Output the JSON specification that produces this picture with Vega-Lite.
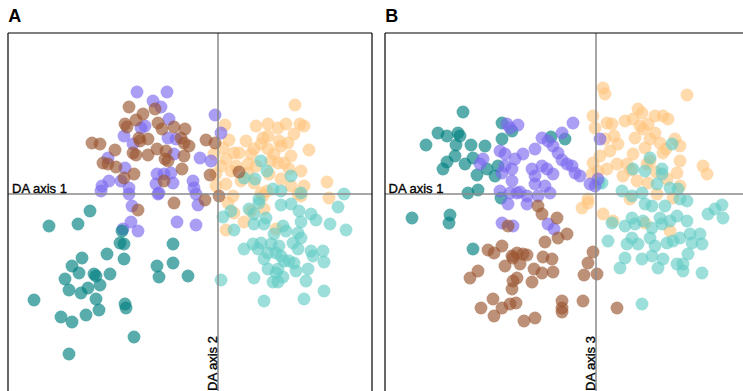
{
"$schema": "https://vega.github.io/schema/vega-lite/v6.json",
"padding": {"left": 7, "top": 8, "right": 0, "bottom": 0},
"autosize": {"type": "pad"},
"config": {"view": {"stroke": null}, "concat": {"spacing": 11}, "font": "Liberation Sans"},
"datasets": {
"a": [
{"x":7.7,"y":8.9,"g":"pe"},{"x":5.0,"y":7.0,"g":"pe"},{"x":6.0,"y":6.6,"g":"pe"},{"x":6.8,"y":7.0,"g":"pe"},{"x":8.2,"y":7.0,"g":"pe"},{"x":8.6,"y":6.8,"g":"pe"},{"x":0.7,"y":6.9,"g":"pe"},{"x":7.6,"y":6.0,"g":"pe"},{"x":4.5,"y":5.6,"g":"pe"},{"x":5.0,"y":5.8,"g":"pe"},{"x":7.0,"y":5.1,"g":"pe"},{"x":4.3,"y":5.0,"g":"pe"},{"x":3.6,"y":4.5,"g":"pe"},{"x":5.0,"y":4.5,"g":"pe"},{"x":6.3,"y":4.8,"g":"pe"},{"x":9.1,"y":4.4,"g":"pe"},{"x":1.1,"y":5.4,"g":"pe"},{"x":0.5,"y":4.6,"g":"pe"},{"x":1.6,"y":4.1,"g":"pe"},{"x":2.1,"y":4.1,"g":"pe"},{"x":3.3,"y":4.0,"g":"pe"},{"x":-0.4,"y":4.0,"g":"pe"},{"x":0.8,"y":3.5,"g":"pe"},{"x":0.3,"y":2.8,"g":"pe"},{"x":3.0,"y":3.0,"g":"pe"},{"x":5.6,"y":4.0,"g":"pe"},{"x":6.0,"y":3.1,"g":"pe"},{"x":6.6,"y":3.1,"g":"pe"},{"x":7.1,"y":2.5,"g":"pe"},{"x":8.3,"y":2.3,"g":"pe"},{"x":1.3,"y":2.3,"g":"pe"},{"x":3.0,"y":2.1,"g":"pe"},{"x":5.1,"y":2.0,"g":"pe"},{"x":6.3,"y":1.5,"g":"pe"},{"x":0.8,"y":1.0,"g":"pe"},{"x":3.6,"y":1.1,"g":"pe"},{"x":8.6,"y":0.8,"g":"pe"},{"x":10.9,"y":1.2,"g":"pe"},{"x":-0.2,"y":2.0,"g":"pe"},{"x":4.3,"y":0.1,"g":"pe"},{"x":4.9,"y":0.3,"g":"pe"},{"x":1.5,"y":-0.2,"g":"pe"},{"x":8.0,"y":0.0,"g":"pe"},{"x":11.1,"y":-0.4,"g":"pe"},{"x":4.5,"y":-0.2,"g":"pe"},{"x":8.3,"y":-0.2,"g":"pe"},{"x":1.0,"y":-0.9,"g":"pe"},{"x":1.6,"y":-1.9,"g":"pe"},{"x":2.6,"y":-2.8,"g":"pe"},{"x":0.8,"y":-3.6,"g":"pe"},{"x":5.8,"y":-3.5,"g":"pe"},{"x":4.6,"y":-1.5,"g":"pe"},{"x":3.3,"y":-1.7,"g":"pe"},{"x":2.8,"y":5.3,"g":"pe"},{"x":5.3,"y":3.3,"g":"pe"},{"x":3.8,"y":2.8,"g":"pe"},{"x":2.3,"y":1.3,"g":"pe"},{"x":7.3,"y":3.8,"g":"pe"},{"x":1.8,"y":2.8,"g":"pe"},{"x":-0.2,"y":0.8,"g":"pe"},{"x":6.1,"y":5.3,"g":"pe"},{"x":3.8,"y":6.8,"g":"pe"},{"x":7.3,"y":0.8,"g":"pe"},
{"x":4.3,"y":3.3,"g":"lt"},{"x":4.9,"y":2.3,"g":"lt"},{"x":2.6,"y":1.6,"g":"lt"},{"x":3.7,"y":1.5,"g":"lt"},{"x":7.3,"y":1.8,"g":"lt"},{"x":5.5,"y":0.5,"g":"lt"},{"x":6.3,"y":0.3,"g":"lt"},{"x":8.3,"y":0.1,"g":"lt"},{"x":12.6,"y":0.0,"g":"lt"},{"x":4.1,"y":-0.5,"g":"lt"},{"x":12.0,"y":-1.3,"g":"lt"},{"x":12.8,"y":-3.6,"g":"lt"},{"x":11.2,"y":-3.0,"g":"lt"},{"x":9.3,"y":-2.0,"g":"lt"},{"x":9.8,"y":-2.6,"g":"lt"},{"x":8.3,"y":-2.8,"g":"lt"},{"x":8.1,"y":-1.7,"g":"lt"},{"x":7.3,"y":-1.0,"g":"lt"},{"x":6.3,"y":-1.1,"g":"lt"},{"x":4.1,"y":-0.9,"g":"lt"},{"x":3.1,"y":-1.5,"g":"lt"},{"x":3.6,"y":-2.0,"g":"lt"},{"x":4.8,"y":-2.4,"g":"lt"},{"x":3.6,"y":-3.0,"g":"lt"},{"x":4.6,"y":-3.0,"g":"lt"},{"x":6.5,"y":-3.2,"g":"lt"},{"x":6.8,"y":-3.7,"g":"lt"},{"x":5.6,"y":-4.0,"g":"lt"},{"x":0.5,"y":-2.3,"g":"lt"},{"x":1.3,"y":-1.7,"g":"lt"},{"x":1.6,"y":-3.6,"g":"lt"},{"x":8.0,"y":-3.9,"g":"lt"},{"x":8.3,"y":-4.4,"g":"lt"},{"x":7.5,"y":-4.9,"g":"lt"},{"x":8.0,"y":-5.5,"g":"lt"},{"x":6.1,"y":-5.2,"g":"lt"},{"x":5.3,"y":-5.0,"g":"lt"},{"x":4.3,"y":-4.9,"g":"lt"},{"x":3.5,"y":-5.0,"g":"lt"},{"x":2.6,"y":-5.5,"g":"lt"},{"x":4.0,"y":-5.5,"g":"lt"},{"x":5.0,"y":-5.9,"g":"lt"},{"x":5.8,"y":-5.9,"g":"lt"},{"x":6.3,"y":-6.2,"g":"lt"},{"x":4.6,"y":-6.5,"g":"lt"},{"x":6.6,"y":-6.7,"g":"lt"},{"x":7.1,"y":-6.7,"g":"lt"},{"x":7.6,"y":-6.9,"g":"lt"},{"x":9.3,"y":-5.7,"g":"lt"},{"x":9.5,"y":-6.2,"g":"lt"},{"x":10.5,"y":-5.7,"g":"lt"},{"x":10.6,"y":-6.8,"g":"lt"},{"x":9.0,"y":-7.5,"g":"lt"},{"x":7.8,"y":-7.7,"g":"lt"},{"x":6.0,"y":-7.5,"g":"lt"},{"x":5.0,"y":-7.5,"g":"lt"},{"x":5.8,"y":-7.9,"g":"lt"},{"x":6.5,"y":-8.3,"g":"lt"},{"x":3.6,"y":-8.4,"g":"lt"},{"x":5.5,"y":-8.8,"g":"lt"},{"x":6.0,"y":-8.8,"g":"lt"},{"x":8.8,"y":-8.7,"g":"lt"},{"x":0.3,"y":-8.6,"g":"lt"},{"x":4.6,"y":-10.7,"g":"lt"},{"x":8.6,"y":-10.5,"g":"lt"},{"x":10.6,"y":-9.7,"g":"lt"},
{"x":-8.1,"y":10.2,"g":"pu"},{"x":-5.1,"y":10.2,"g":"pu"},{"x":-6.5,"y":9.3,"g":"pu"},{"x":-5.7,"y":8.7,"g":"pu"},{"x":-4.9,"y":7.5,"g":"pu"},{"x":-7.3,"y":6.8,"g":"pu"},{"x":-7.7,"y":6.6,"g":"pu"},{"x":-0.3,"y":7.9,"g":"pu"},{"x":0.3,"y":6.1,"g":"pu"},{"x":-9.4,"y":5.8,"g":"pu"},{"x":-5.0,"y":5.6,"g":"pu"},{"x":-4.2,"y":5.5,"g":"pu"},{"x":-8.5,"y":5.0,"g":"pu"},{"x":-4.4,"y":4.0,"g":"pu"},{"x":-1.8,"y":3.6,"g":"pu"},{"x":-0.7,"y":3.3,"g":"pu"},{"x":-11.0,"y":3.6,"g":"pu"},{"x":-9.3,"y":2.6,"g":"pu"},{"x":-6.1,"y":2.0,"g":"pu"},{"x":-5.4,"y":2.0,"g":"pu"},{"x":-4.7,"y":2.1,"g":"pu"},{"x":-11.6,"y":0.8,"g":"pu"},{"x":-10.9,"y":1.3,"g":"pu"},{"x":-9.7,"y":1.3,"g":"pu"},{"x":-8.9,"y":0.6,"g":"pu"},{"x":-8.9,"y":0.0,"g":"pu"},{"x":-6.2,"y":1.0,"g":"pu"},{"x":-5.9,"y":0.1,"g":"pu"},{"x":-4.5,"y":1.1,"g":"pu"},{"x":-2.5,"y":1.3,"g":"pu"},{"x":-2.4,"y":0.6,"g":"pu"},{"x":-6.0,"y":0.0,"g":"pu"},{"x":-8.6,"y":-1.2,"g":"pu"},{"x":-8.7,"y":-2.8,"g":"pu"},{"x":-8.0,"y":-3.7,"g":"pu"},{"x":-4.1,"y":-2.8,"g":"pu"},{"x":-2.2,"y":-3.1,"g":"pu"},{"x":-2.0,"y":-1.1,"g":"pu"},{"x":-2.2,"y":0.0,"g":"pu"},{"x":-11.7,"y":0.3,"g":"pu"},{"x":-9.5,"y":-3.5,"g":"pu"},
{"x":-8.9,"y":8.7,"g":"br"},{"x":-6.3,"y":8.5,"g":"br"},{"x":-7.5,"y":8.0,"g":"br"},{"x":-8.2,"y":7.4,"g":"br"},{"x":-9.3,"y":7.0,"g":"br"},{"x":-9.1,"y":6.7,"g":"br"},{"x":-6.0,"y":7.1,"g":"br"},{"x":-5.6,"y":6.5,"g":"br"},{"x":-4.4,"y":6.7,"g":"br"},{"x":-3.3,"y":6.5,"g":"br"},{"x":-7.9,"y":5.6,"g":"br"},{"x":-7.0,"y":5.5,"g":"br"},{"x":-7.8,"y":5.3,"g":"br"},{"x":-3.7,"y":5.6,"g":"br"},{"x":-3.4,"y":5.1,"g":"br"},{"x":-2.9,"y":4.8,"g":"br"},{"x":-12.6,"y":5.1,"g":"br"},{"x":-11.8,"y":5.0,"g":"br"},{"x":-10.3,"y":4.4,"g":"br"},{"x":-8.5,"y":4.1,"g":"br"},{"x":-8.2,"y":3.9,"g":"br"},{"x":-7.0,"y":3.9,"g":"br"},{"x":-6.1,"y":4.5,"g":"br"},{"x":-5.2,"y":4.3,"g":"br"},{"x":-5.3,"y":3.5,"g":"br"},{"x":-5.0,"y":3.3,"g":"br"},{"x":-3.4,"y":3.8,"g":"br"},{"x":-11.5,"y":3.1,"g":"br"},{"x":-11.0,"y":3.0,"g":"br"},{"x":-10.2,"y":2.7,"g":"br"},{"x":-8.4,"y":2.0,"g":"br"},{"x":-9.4,"y":1.6,"g":"br"},{"x":-5.4,"y":1.3,"g":"br"},{"x":-3.6,"y":2.5,"g":"br"},{"x":-1.2,"y":5.4,"g":"br"},{"x":-0.3,"y":5.1,"g":"br"},{"x":-0.8,"y":1.9,"g":"br"},{"x":2.1,"y":2.2,"g":"br"},{"x":0.1,"y":-0.2,"g":"br"},{"x":-4.4,"y":-0.9,"g":"br"},{"x":-8.0,"y":-1.6,"g":"br"},{"x":-1.3,"y":-0.6,"g":"br"},
{"x":-12.8,"y":-1.7,"g":"dt"},{"x":-16.9,"y":-3.2,"g":"dt"},{"x":-14.0,"y":-3.0,"g":"dt"},{"x":-9.8,"y":-4.9,"g":"dt"},{"x":-9.4,"y":-5.0,"g":"dt"},{"x":-11.1,"y":-6.0,"g":"dt"},{"x":-13.6,"y":-6.4,"g":"dt"},{"x":-9.4,"y":-6.5,"g":"dt"},{"x":-4.5,"y":-5.0,"g":"dt"},{"x":-4.5,"y":-6.9,"g":"dt"},{"x":-6.1,"y":-7.2,"g":"dt"},{"x":-5.9,"y":-8.3,"g":"dt"},{"x":-3.0,"y":-8.2,"g":"dt"},{"x":-14.6,"y":-7.2,"g":"dt"},{"x":-13.9,"y":-7.9,"g":"dt"},{"x":-15.3,"y":-8.5,"g":"dt"},{"x":-12.4,"y":-8.0,"g":"dt"},{"x":-12.2,"y":-8.2,"g":"dt"},{"x":-10.8,"y":-8.0,"g":"dt"},{"x":-11.8,"y":-9.1,"g":"dt"},{"x":-13.0,"y":-9.4,"g":"dt"},{"x":-14.9,"y":-9.6,"g":"dt"},{"x":-13.7,"y":-9.9,"g":"dt"},{"x":-12.2,"y":-10.5,"g":"dt"},{"x":-18.4,"y":-10.6,"g":"dt"},{"x":-9.3,"y":-11.0,"g":"dt"},{"x":-9.2,"y":-11.4,"g":"dt"},{"x":-11.9,"y":-11.6,"g":"dt"},{"x":-13.2,"y":-12.1,"g":"dt"},{"x":-15.7,"y":-12.3,"g":"dt"},{"x":-14.6,"y":-12.8,"g":"dt"},{"x":-8.4,"y":-14.3,"g":"dt"},{"x":-14.9,"y":-16.0,"g":"dt"},{"x":-9.6,"y":-3.7,"g":"dt"}
],
"b": [
{"x":0.7,"y":10.6,"g":"pe"},{"x":0.9,"y":10.0,"g":"pe"},{"x":9.1,"y":9.9,"g":"pe"},{"x":4.2,"y":8.5,"g":"pe"},{"x":4.6,"y":8.1,"g":"pe"},{"x":-0.3,"y":7.8,"g":"pe"},{"x":5.9,"y":7.8,"g":"pe"},{"x":6.7,"y":7.8,"g":"pe"},{"x":7.2,"y":7.5,"g":"pe"},{"x":1.1,"y":7.1,"g":"pe"},{"x":1.6,"y":7.0,"g":"pe"},{"x":2.9,"y":7.3,"g":"pe"},{"x":3.7,"y":7.5,"g":"pe"},{"x":4.4,"y":6.8,"g":"pe"},{"x":5.2,"y":7.0,"g":"pe"},{"x":-0.1,"y":6.6,"g":"pe"},{"x":4.7,"y":6.5,"g":"pe"},{"x":5.9,"y":6.1,"g":"pe"},{"x":3.9,"y":5.6,"g":"pe"},{"x":2.2,"y":5.0,"g":"pe"},{"x":0.9,"y":5.5,"g":"pe"},{"x":5.4,"y":5.5,"g":"pe"},{"x":6.4,"y":5.1,"g":"pe"},{"x":7.9,"y":5.5,"g":"pe"},{"x":8.4,"y":4.8,"g":"pe"},{"x":4.9,"y":4.6,"g":"pe"},{"x":6.7,"y":4.1,"g":"pe"},{"x":3.7,"y":4.0,"g":"pe"},{"x":1.4,"y":4.3,"g":"pe"},{"x":0.4,"y":3.8,"g":"pe"},{"x":2.1,"y":3.0,"g":"pe"},{"x":3.1,"y":3.0,"g":"pe"},{"x":5.1,"y":3.0,"g":"pe"},{"x":-0.3,"y":3.1,"g":"pe"},{"x":1.1,"y":2.5,"g":"pe"},{"x":8.4,"y":3.3,"g":"pe"},{"x":8.1,"y":2.1,"g":"pe"},{"x":10.7,"y":2.8,"g":"pe"},{"x":11.1,"y":2.0,"g":"pe"},{"x":2.7,"y":1.8,"g":"pe"},{"x":4.1,"y":1.3,"g":"pe"},{"x":5.2,"y":1.1,"g":"pe"},{"x":7.1,"y":1.5,"g":"pe"},{"x":8.4,"y":0.8,"g":"pe"},{"x":-0.4,"y":2.0,"g":"pe"},{"x":0.2,"y":2.3,"g":"pe"},{"x":-0.8,"y":-0.5,"g":"pe"},{"x":-0.8,"y":-0.9,"g":"pe"},{"x":-1.4,"y":-1.4,"g":"pe"},{"x":0.7,"y":-2.0,"g":"pe"},{"x":1.7,"y":-2.7,"g":"pe"},{"x":7.4,"y":-3.7,"g":"pe"},{"x":4.9,"y":-2.9,"g":"pe"},{"x":3.4,"y":-0.5,"g":"pe"},{"x":6.1,"y":0.0,"g":"pe"},{"x":7.7,"y":-0.4,"g":"pe"},{"x":5.4,"y":3.3,"g":"pe"},{"x":7.0,"y":4.5,"g":"pe"},{"x":3.5,"y":2.4,"g":"pe"},{"x":6.0,"y":2.2,"g":"pe"},{"x":1.8,"y":5.8,"g":"pe"},
{"x":7.6,"y":5.0,"g":"lt"},{"x":5.4,"y":3.6,"g":"lt"},{"x":3.7,"y":2.5,"g":"lt"},{"x":4.9,"y":2.3,"g":"lt"},{"x":6.6,"y":2.5,"g":"lt"},{"x":6.6,"y":2.0,"g":"lt"},{"x":6.1,"y":1.0,"g":"lt"},{"x":0.6,"y":1.1,"g":"lt"},{"x":2.6,"y":0.3,"g":"lt"},{"x":4.6,"y":0.1,"g":"lt"},{"x":7.4,"y":0.6,"g":"lt"},{"x":8.2,"y":0.5,"g":"lt"},{"x":3.6,"y":-0.2,"g":"lt"},{"x":4.9,"y":-1.0,"g":"lt"},{"x":5.6,"y":-1.2,"g":"lt"},{"x":6.9,"y":-1.2,"g":"lt"},{"x":8.4,"y":-0.5,"g":"lt"},{"x":9.1,"y":-0.7,"g":"lt"},{"x":11.2,"y":-2.0,"g":"lt"},{"x":11.9,"y":-1.5,"g":"lt"},{"x":12.6,"y":-1.1,"g":"lt"},{"x":12.7,"y":-2.4,"g":"lt"},{"x":1.6,"y":-2.9,"g":"lt"},{"x":1.2,"y":-4.7,"g":"lt"},{"x":3.6,"y":-2.4,"g":"lt"},{"x":3.9,"y":-3.0,"g":"lt"},{"x":4.7,"y":-2.7,"g":"lt"},{"x":5.6,"y":-3.4,"g":"lt"},{"x":6.4,"y":-2.4,"g":"lt"},{"x":6.6,"y":-3.0,"g":"lt"},{"x":7.4,"y":-2.7,"g":"lt"},{"x":8.1,"y":-2.2,"g":"lt"},{"x":9.1,"y":-2.7,"g":"lt"},{"x":3.6,"y":-4.4,"g":"lt"},{"x":4.2,"y":-5.0,"g":"lt"},{"x":5.4,"y":-4.4,"g":"lt"},{"x":5.9,"y":-5.2,"g":"lt"},{"x":7.1,"y":-4.9,"g":"lt"},{"x":7.7,"y":-4.7,"g":"lt"},{"x":8.4,"y":-4.4,"g":"lt"},{"x":9.4,"y":-4.0,"g":"lt"},{"x":10.4,"y":-4.0,"g":"lt"},{"x":10.6,"y":-5.0,"g":"lt"},{"x":9.6,"y":-4.9,"g":"lt"},{"x":5.6,"y":-6.2,"g":"lt"},{"x":4.6,"y":-6.5,"g":"lt"},{"x":6.7,"y":-6.5,"g":"lt"},{"x":8.1,"y":-7.0,"g":"lt"},{"x":8.7,"y":-7.0,"g":"lt"},{"x":9.2,"y":-6.0,"g":"lt"},{"x":2.9,"y":-6.4,"g":"lt"},{"x":2.4,"y":-7.4,"g":"lt"},{"x":6.2,"y":-7.4,"g":"lt"},{"x":8.7,"y":-7.7,"g":"lt"},{"x":10.6,"y":-7.9,"g":"lt"},{"x":4.6,"y":-11.0,"g":"lt"},{"x":2.9,"y":-3.2,"g":"lt"},{"x":3.1,"y":-5.0,"g":"lt"},{"x":0.3,"y":1.1,"g":"lt"},
{"x":-13.3,"y":8.2,"g":"dt"},{"x":-15.8,"y":6.1,"g":"dt"},{"x":-14.9,"y":5.8,"g":"dt"},{"x":-13.8,"y":6.1,"g":"dt"},{"x":-13.6,"y":5.8,"g":"dt"},{"x":-17.0,"y":4.9,"g":"dt"},{"x":-14.0,"y":4.9,"g":"dt"},{"x":-12.5,"y":4.9,"g":"dt"},{"x":-11.1,"y":4.8,"g":"dt"},{"x":-14.1,"y":3.8,"g":"dt"},{"x":-12.3,"y":3.6,"g":"dt"},{"x":-13.1,"y":3.0,"g":"dt"},{"x":-14.9,"y":3.2,"g":"dt"},{"x":-15.3,"y":2.5,"g":"dt"},{"x":-10.9,"y":2.5,"g":"dt"},{"x":-11.9,"y":1.9,"g":"dt"},{"x":-10.1,"y":1.8,"g":"dt"},{"x":-9.4,"y":7.1,"g":"dt"},{"x":-8.4,"y":6.3,"g":"dt"},{"x":-9.4,"y":5.5,"g":"dt"},{"x":-4.5,"y":5.7,"g":"dt"},{"x":-3.1,"y":5.5,"g":"dt"},{"x":-9.8,"y":2.8,"g":"dt"},{"x":-12.8,"y":0.1,"g":"dt"},{"x":-11.8,"y":0.4,"g":"dt"},{"x":-18.4,"y":-2.4,"g":"dt"},{"x":-14.6,"y":-2.1,"g":"dt"},{"x":-14.7,"y":-2.9,"g":"dt"},{"x":-12.3,"y":-5.5,"g":"dt"},{"x":-9.5,"y":-0.4,"g":"dt"},
{"x":-7.8,"y":6.9,"g":"pu"},{"x":-8.9,"y":7.0,"g":"pu"},{"x":-8.6,"y":6.6,"g":"pu"},{"x":-2.3,"y":7.1,"g":"pu"},{"x":-3.4,"y":6.1,"g":"pu"},{"x":-5.4,"y":5.6,"g":"pu"},{"x":-4.8,"y":5.3,"g":"pu"},{"x":-4.3,"y":4.8,"g":"pu"},{"x":-3.8,"y":4.1,"g":"pu"},{"x":-6.1,"y":4.5,"g":"pu"},{"x":-3.4,"y":3.4,"g":"pu"},{"x":-7.3,"y":4.0,"g":"pu"},{"x":-8.1,"y":3.5,"g":"pu"},{"x":-9.1,"y":4.0,"g":"pu"},{"x":-9.6,"y":4.3,"g":"pu"},{"x":-11.3,"y":3.5,"g":"pu"},{"x":-11.6,"y":3.0,"g":"pu"},{"x":-9.1,"y":2.8,"g":"pu"},{"x":-8.4,"y":2.5,"g":"pu"},{"x":-9.4,"y":2.1,"g":"pu"},{"x":-6.4,"y":2.5,"g":"pu"},{"x":-5.4,"y":2.8,"g":"pu"},{"x":-4.9,"y":2.5,"g":"pu"},{"x":-6.1,"y":1.8,"g":"pu"},{"x":-4.3,"y":2.0,"g":"pu"},{"x":-2.4,"y":2.8,"g":"pu"},{"x":-2.1,"y":2.1,"g":"pu"},{"x":-1.6,"y":1.8,"g":"pu"},{"x":-8.4,"y":1.3,"g":"pu"},{"x":-6.1,"y":1.0,"g":"pu"},{"x":-5.1,"y":0.8,"g":"pu"},{"x":-0.6,"y":1.0,"g":"pu"},{"x":-0.1,"y":0.8,"g":"pu"},{"x":0.2,"y":1.5,"g":"pu"},{"x":-9.6,"y":0.3,"g":"pu"},{"x":-8.6,"y":0.1,"g":"pu"},{"x":-7.6,"y":0.2,"g":"pu"},{"x":-4.6,"y":0.1,"g":"pu"},{"x":-6.9,"y":-0.2,"g":"pu"},{"x":-8.8,"y":-1.0,"g":"pu"},{"x":-6.9,"y":-1.0,"g":"pu"},{"x":-5.8,"y":-0.2,"g":"pu"},{"x":-9.4,"y":-2.9,"g":"pu"},{"x":-8.3,"y":-3.2,"g":"pu"},{"x":-4.8,"y":-3.0,"g":"pu"},{"x":-4.2,"y":-3.5,"g":"pu"},{"x":-7.9,"y":0.1,"g":"pu"},{"x":0.4,"y":5.5,"g":"pu"},{"x":-2.9,"y":3.0,"g":"pu"},
{"x":-5.8,"y":-1.2,"g":"br"},{"x":-5.4,"y":-2.0,"g":"br"},{"x":-3.9,"y":-2.4,"g":"br"},{"x":-8.8,"y":-3.2,"g":"br"},{"x":-3.8,"y":-4.4,"g":"br"},{"x":-2.9,"y":-4.0,"g":"br"},{"x":-5.1,"y":-4.8,"g":"br"},{"x":-10.8,"y":-5.6,"g":"br"},{"x":-10.2,"y":-5.9,"g":"br"},{"x":-9.4,"y":-5.2,"g":"br"},{"x":-8.4,"y":-6.2,"g":"br"},{"x":-7.9,"y":-5.9,"g":"br"},{"x":-7.3,"y":-6.0,"g":"br"},{"x":-6.9,"y":-6.1,"g":"br"},{"x":-8.3,"y":-6.4,"g":"br"},{"x":-5.3,"y":-6.3,"g":"br"},{"x":-4.4,"y":-6.5,"g":"br"},{"x":-9.1,"y":-7.2,"g":"br"},{"x":-7.6,"y":-7.0,"g":"br"},{"x":-6.2,"y":-7.5,"g":"br"},{"x":-5.4,"y":-7.9,"g":"br"},{"x":-4.3,"y":-7.8,"g":"br"},{"x":-11.8,"y":-7.7,"g":"br"},{"x":-12.6,"y":-8.4,"g":"br"},{"x":-7.9,"y":-8.4,"g":"br"},{"x":-8.3,"y":-8.7,"g":"br"},{"x":-6.4,"y":-8.8,"g":"br"},{"x":-8.4,"y":-9.5,"g":"br"},{"x":-10.3,"y":-10.5,"g":"br"},{"x":-11.5,"y":-11.4,"g":"br"},{"x":-9.4,"y":-11.4,"g":"br"},{"x":-8.6,"y":-11.0,"g":"br"},{"x":-8.0,"y":-10.9,"g":"br"},{"x":-10.2,"y":-12.2,"g":"br"},{"x":-7.2,"y":-12.7,"g":"br"},{"x":-6.1,"y":-12.4,"g":"br"},{"x":-3.4,"y":-10.7,"g":"br"},{"x":-3.4,"y":-11.4,"g":"br"},{"x":-3.4,"y":-11.8,"g":"br"},{"x":-1.3,"y":-10.7,"g":"br"},{"x":-0.3,"y":-5.8,"g":"br"},{"x":-0.8,"y":-6.9,"g":"br"},{"x":-1.2,"y":-8.1,"g":"br"},{"x":0.1,"y":-8.0,"g":"br"},{"x":2.1,"y":-11.4,"g":"br"}
]
},
"hconcat": [
{
"width": 364, "height": 359,
"title": {"text": "A", "anchor": "start", "fontSize": 18, "fontWeight": "bold", "color": "#000", "offset": 6, "baseline": "top", "font": "Liberation Sans", "dx": 1},
"layer": [
{"data": {"name": "a"}, "mark": {"type": "point", "filled": true, "shape": "circle", "size": 165, "opacity": 0.65, "strokeWidth": 0},
 "encoding": {
  "x": {"field": "x", "type": "quantitative", "scale": {"domain": [-21, 15.4], "nice": false, "zero": false}, "axis": null},
  "y": {"field": "y", "type": "quantitative", "scale": {"domain": [-19.8, 16.1], "nice": false, "zero": false}, "axis": null},
  "color": {"field": "g", "type": "nominal", "scale": {"domain": ["pe","lt","pu","br","dt"], "range": ["#FFC680","#66CCC6","#7B68EE","#9A5530","#008080"]}, "legend": null}}},
{"data": {"values": [{"v": 0}]}, "mark": {"type": "rule", "color": "#8a8a8a", "strokeWidth": 1.5}, "encoding": {"x": {"field": "v", "type": "quantitative"}}},
{"data": {"values": [{"v": 0}]}, "mark": {"type": "rule", "color": "#8a8a8a", "strokeWidth": 1.5}, "encoding": {"y": {"field": "v", "type": "quantitative"}}},
{"data": {"values": [{"x": -21, "y": -19.8, "x2": -21, "y2": 16.1}, {"x": -21, "y": 16.1, "x2": 15.4, "y2": 16.1}, {"x": 15.4, "y": -19.8, "x2": 15.4, "y2": 16.1}]},
 "mark": {"type": "rule", "color": "#000", "strokeWidth": 1.2},
 "encoding": {"x": {"field": "x", "type": "quantitative"}, "y": {"field": "y", "type": "quantitative"}, "x2": {"field": "x2"}, "y2": {"field": "y2"}}},
{"data": {"values": [{"x": -20.6, "y": 0.1, "t": "DA axis 1"}]},
 "mark": {"type": "text", "align": "left", "baseline": "alphabetic", "fontSize": 13, "font": "Liberation Sans", "color": "#000", "stroke": "#000", "strokeWidth": 0.35},
 "encoding": {"x": {"field": "x", "type": "quantitative"}, "y": {"field": "y", "type": "quantitative"}, "text": {"field": "t"}}},
{"data": {"values": [{"x": -0.1, "y": -19.7, "t": "DA axis 2"}]},
 "mark": {"type": "text", "align": "left", "baseline": "alphabetic", "angle": 270, "fontSize": 13, "font": "Liberation Sans", "color": "#000", "stroke": "#000", "strokeWidth": 0.35},
 "encoding": {"x": {"field": "x", "type": "quantitative"}, "y": {"field": "y", "type": "quantitative"}, "text": {"field": "t"}}}
]
},
{
"width": 361, "height": 359,
"title": {"text": "B", "anchor": "start", "fontSize": 18, "fontWeight": "bold", "color": "#000", "offset": 6, "baseline": "top", "font": "Liberation Sans", "dx": 1},
"layer": [
{"data": {"name": "b"}, "mark": {"type": "point", "filled": true, "shape": "circle", "size": 165, "opacity": 0.65, "strokeWidth": 0},
 "encoding": {
  "x": {"field": "x", "type": "quantitative", "scale": {"domain": [-21.1, 15.0], "nice": false, "zero": false}, "axis": null},
  "y": {"field": "y", "type": "quantitative", "scale": {"domain": [-19.8, 16.1], "nice": false, "zero": false}, "axis": null},
  "color": {"field": "g", "type": "nominal", "scale": {"domain": ["pe","lt","pu","br","dt"], "range": ["#FFC680","#66CCC6","#7B68EE","#9A5530","#008080"]}, "legend": null}}},
{"data": {"values": [{"v": 0}]}, "mark": {"type": "rule", "color": "#8a8a8a", "strokeWidth": 1.5}, "encoding": {"x": {"field": "v", "type": "quantitative"}}},
{"data": {"values": [{"v": 0}]}, "mark": {"type": "rule", "color": "#8a8a8a", "strokeWidth": 1.5}, "encoding": {"y": {"field": "v", "type": "quantitative"}}},
{"data": {"values": [{"x": -21.1, "y": -19.8, "x2": -21.1, "y2": 16.1}, {"x": -21.1, "y": 16.1, "x2": 15.0, "y2": 16.1}]},
 "mark": {"type": "rule", "color": "#000", "strokeWidth": 1.2},
 "encoding": {"x": {"field": "x", "type": "quantitative"}, "y": {"field": "y", "type": "quantitative"}, "x2": {"field": "x2"}, "y2": {"field": "y2"}}},
{"data": {"values": [{"x": -20.75, "y": 0.1, "t": "DA axis 1"}]},
 "mark": {"type": "text", "align": "left", "baseline": "alphabetic", "fontSize": 13, "font": "Liberation Sans", "color": "#000", "stroke": "#000", "strokeWidth": 0.35},
 "encoding": {"x": {"field": "x", "type": "quantitative"}, "y": {"field": "y", "type": "quantitative"}, "text": {"field": "t"}}},
{"data": {"values": [{"x": -0.1, "y": -19.7, "t": "DA axis 3"}]},
 "mark": {"type": "text", "align": "left", "baseline": "alphabetic", "angle": 270, "fontSize": 13, "font": "Liberation Sans", "color": "#000", "stroke": "#000", "strokeWidth": 0.35},
 "encoding": {"x": {"field": "x", "type": "quantitative"}, "y": {"field": "y", "type": "quantitative"}, "text": {"field": "t"}}}
]
}
]
}
